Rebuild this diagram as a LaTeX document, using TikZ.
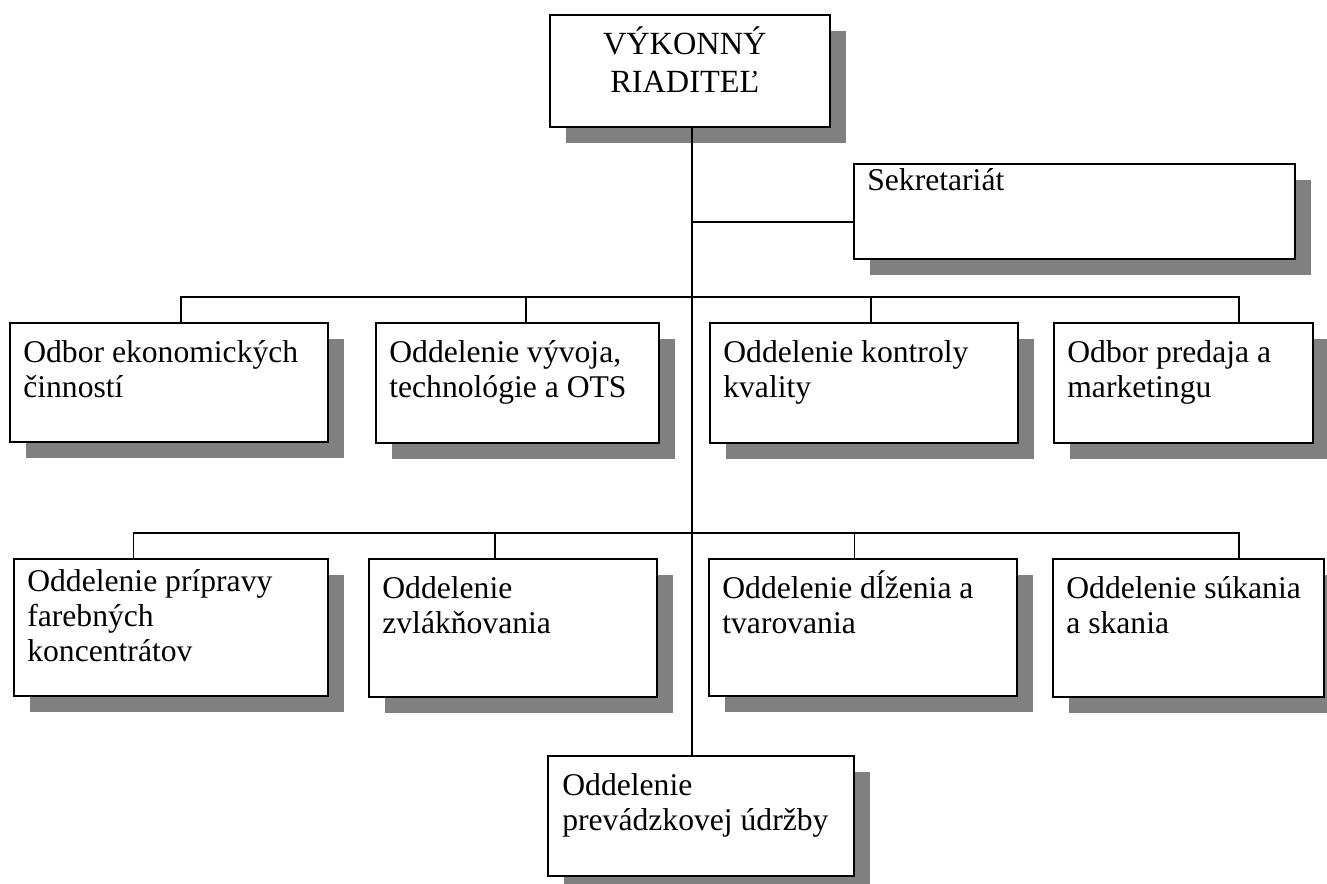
\documentclass[tikz,border=0pt]{standalone}
\usepackage{fontspec}
\setmainfont{Liberation Serif}
\usetikzlibrary{
  calc,
  shadows
}
\definecolor{shadowGray}{RGB}{128,128,128}
\colorlet{ink}{black}
\newcommand{\unitfont}{\fontsize{18pt}{19.9pt}\selectfont}
\newcommand{\headfont}{\fontsize{18.4pt}{21.6pt}\selectfont}
\newcommand{\topstrut}{\rule{0pt}{0.62cm}}
\tikzset{
  connector/.style={draw=ink, line width=0.8pt},
  unit/.style={
    draw=ink,
    fill=white,
    line width=0.9pt,
    anchor=north west,
    inner sep=0pt,
    drop shadow={shadow xshift=0.32cm, shadow yshift=-0.32cm, fill=shadowGray, opacity=1}
  },
  unittext/.style={anchor=north west, align=left, inner sep=0pt, font=\unitfont, text=ink},
  headtext/.style={anchor=north, align=center, inner sep=0pt, font=\headfont, text=ink}
}

\begin{document}
\begin{tikzpicture}[x=0.02cm,y=-0.02cm]
  \useasboundingbox (0,0) rectangle (1327,884);

  \node[unit, minimum width=5.6cm, minimum height=2.24cm] (director) at (549,14) {};
  \node[headtext] (director-txt) at ([xshift=-0.1cm,yshift=-0.24cm]director.north) {VÝKONNÝ\\RIADITEĽ};

  \node[unit, minimum width=8.82cm, minimum height=1.9cm] (sekr) at (853,163) {};
  \node[unittext] (sekr-txt) at ([xshift=0.28cm,yshift=0.08cm]sekr.north west) {\topstrut Sekretariát};

  \node[unit, minimum width=6.36cm, minimum height=2.38cm] (ekon) at (9,322) {};
  \node[unittext] (ekon-txt) at ([xshift=0.28cm,yshift=-0.18cm]ekon.north west) {\topstrut Odbor ekonomických\\činností};
  \node[unit, minimum width=5.66cm, minimum height=2.4cm] (vyvoj) at (375,322) {};
  \node[unittext] (vyvoj-txt) at ([xshift=0.28cm,yshift=-0.18cm]vyvoj.north west) {\topstrut Oddelenie vývoja,\\technológie a OTS};
  \node[unit, minimum width=6.16cm, minimum height=2.4cm] (kval) at (709,322) {};
  \node[unittext] (kval-txt) at ([xshift=0.28cm,yshift=-0.18cm]kval.north west) {\topstrut Oddelenie kontroly\\kvality};
  \node[unit, minimum width=5.18cm, minimum height=2.4cm] (predaj) at (1053,322) {};
  \node[unittext] (predaj-txt) at ([xshift=0.28cm,yshift=-0.18cm]predaj.north west) {\topstrut Odbor predaja a\\marketingu};

  \node[unit, minimum width=6.28cm, minimum height=2.74cm] (priprava) at (13,558) {};
  \node[unittext] (priprava-txt) at ([xshift=0.28cm,yshift=-0.04cm]priprava.north west) {\topstrut Oddelenie prípravy\\farebných\\koncentrátov};
  \node[unit, minimum width=5.76cm, minimum height=2.76cm] (zvlak) at (368,558) {};
  \node[unittext] (zvlak-txt) at ([xshift=0.28cm,yshift=-0.18cm]zvlak.north west) {\topstrut Oddelenie\\zvlákňovania};
  \node[unit, minimum width=6.16cm, minimum height=2.74cm] (dlzenie) at (708,558) {};
  \node[unittext] (dlzenie-txt) at ([xshift=0.28cm,yshift=-0.18cm]dlzenie.north west) {\topstrut Oddelenie dĺženia a\\tvarovania};
  \node[unit, minimum width=5.42cm, minimum height=2.76cm] (sukanie) at (1052,558) {};
  \node[unittext] (sukanie-txt) at ([xshift=0.28cm,yshift=-0.18cm]sukanie.north west) {\topstrut Oddelenie súkania\\a skania};

  \node[unit, minimum width=6.12cm, minimum height=2.4cm] (udrzba) at (547,755) {};
  \node[unittext] (udrzba-txt) at ([xshift=0.3cm,yshift=-0.18cm]udrzba.north west) {\topstrut Oddelenie\\prevádzkovej údržby};

  % spine and buses
  \coordinate (sektap) at (692,222);
  \coordinate (bus1) at (692,297);
  \coordinate (bus2) at (692,533);

  \draw[connector] (director.south -| sektap) -- (udrzba.north -| sektap);
  \draw[connector] (sektap) -- (sektap -| sekr.west);

  \draw[connector] ($(ekon.north west)!0.538!(ekon.north east)$) |- (bus1);
  \draw[connector] ($(vyvoj.north west)!0.530!(vyvoj.north east)$) |- (bus1);
  \draw[connector] ($(kval.north west)!0.523!(kval.north east)$) |- (bus1);
  \draw[connector] ($(predaj.north west)!0.714!(predaj.north east)$) |- (bus1);

  \draw[connector] ($(priprava.north west)!0.382!(priprava.north east)$) |- (bus2);
  \draw[connector] ($(zvlak.north west)!0.438!(zvlak.north east)$) |- (bus2);
  \draw[connector] ($(dlzenie.north west)!0.474!(dlzenie.north east)$) |- (bus2);
  \draw[connector] ($(sukanie.north west)!0.686!(sukanie.north east)$) |- (bus2);
\end{tikzpicture}
\end{document}
